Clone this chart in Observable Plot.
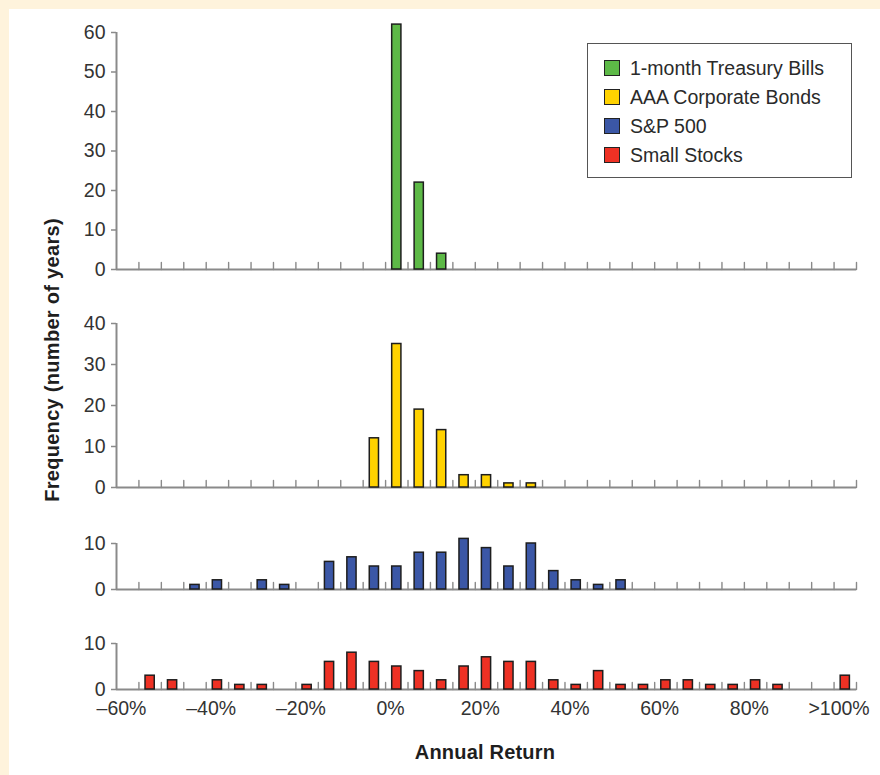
<!DOCTYPE html>
<html><head><meta charset="utf-8">
<script src="https://cdn.jsdelivr.net/npm/d3@7"></script>
<script src="https://cdn.jsdelivr.net/npm/@observablehq/plot@0.6"></script>
<style>
body{margin:0;background:#fff;}
#wrap{position:relative;width:880px;height:775px;background:#FEF3DC;overflow:hidden;font-family:"Liberation Sans",Arial,sans-serif;}
#panel{position:absolute;left:9px;top:9px;width:871px;height:766px;background:#fff;}
#wrap svg{position:absolute;left:0;}
#legend{position:absolute;left:587px;top:43px;width:265px;height:135px;border:1.5px solid #555;box-sizing:border-box;background:#fff;}
.row{position:absolute;left:16px;height:16px;display:flex;align-items:center;font-size:19.5px;color:#2a2a2a;white-space:nowrap;}
.sw{width:16px;height:16px;box-sizing:border-box;border:1.5px solid #222;margin-right:10px;flex:none;}
#ytitle{position:absolute;left:52px;top:360px;transform:translate(-50%,-50%) rotate(-90deg);font-weight:bold;font-size:20px;letter-spacing:0.3px;color:#1e1e1e;white-space:nowrap;}
#xtitle{position:absolute;left:485px;top:752px;transform:translate(-50%,-50%);font-weight:bold;font-size:20px;color:#1e1e1e;white-space:nowrap;letter-spacing:0.2px;}
</style></head>
<body><div id="wrap"><div id="panel"></div></div>
<script>
// Bin lower edges (5% wide bins; the last one is ">100%")
const binStarts = [-60,-55,-50,-45,-40,-35,-30,-25,-20,-15,-10,-5,0,5,10,15,20,25,30,35,40,45,50,55,60,65,70,75,80,85,90,95,100];
// Frequencies (number of years) per bin
const treasuryBills = [0,0,0,0,0,0,0,0,0,0,0,0,62,22,4,0,0,0,0,0,0,0,0,0,0,0,0,0,0,0,0,0,0];
const corporateBonds = [0,0,0,0,0,0,0,0,0,0,0,12,35,19,14,3,3,1,1,0,0,0,0,0,0,0,0,0,0,0,0,0,0];
const sp500 = [0,0,0,1,2,0,2,1,0,6,7,5,5,8,8,11,9,5,10,4,2,1,2,0,0,0,0,0,0,0,0,0,0];
const smallStocks = [0,3,2,0,2,1,1,0,1,6,8,6,5,4,2,5,7,6,6,2,1,4,1,1,2,2,1,1,2,1,0,0,3];

const seriesNames = ["1-month Treasury Bills","AAA Corporate Bonds","S&P 500","Small Stocks"];
const seriesColors = ["#5DB947","#FFD200","#3B57A6","#EE3124"];
const yTickSets = [[0,10,20,30,40,50,60],[0,10,20,30,40],[0,10],[0,10]];
const binTicks = [-55,-50,-45,-40,-35,-30,-25,-20,-15,-10,-5,0,5,10,15,20,25,30,35,40,45,50,55,60,65,70,75,80,85,90,95,100,105];
const xLabelValues = [-60,-40,-20,0,20,40,60,80,100];
const xLabelTexts = ["\u201360%","\u201340%","\u201320%","0%","20%","40%","60%","80%",">100%"];

const seriesCounts = [treasuryBills, corporateBonds, sp500, smallStocks];
// pixel layout of each panel: y of top tick, y of zero line
const layout = [[32.3,269.3],[322.7,486.7],[543,588.5],[643,688.5]];

const wrap = document.getElementById("wrap");
const axisGray = "#8a8a8a";
const font = "'Liberation Sans', Arial, sans-serif";

seriesCounts.forEach((counts, k) => {
  const withX = k === 3;
  const yTicks = yTickSets[k];
  const yMax = yTicks[yTicks.length - 1];
  const [yTop, yZero] = layout[k];
  const mt = 16, mb = withX ? 40 : 14;
  const height = Math.round(mt + (yZero - yTop) + mb);
  const data = binStarts.map((lo, i) => ({lo, hi: lo + 5, n: counts[i]})).filter(d => d.n > 0);
  const marks = [
    Plot.ruleY([0], {stroke: axisGray, strokeWidth: 2}),
    Plot.ruleX([-60], {y1: 0, y2: yMax, stroke: axisGray, strokeWidth: 2}),
    Plot.vector(binTicks, {x: d => d, frameAnchor: "bottom", length: 7, rotate: 0, anchor: "start", r: 0, stroke: axisGray, strokeWidth: 1.4}),
    Plot.rectY(data, {x1: "lo", x2: "hi", y: "n", fill: seriesColors[k], stroke: "#1e1e1e", strokeWidth: 1.5, insetLeft: 6.6, insetRight: 6.6}),
    Plot.axisY(yTicks, {tickSize: 5, tickPadding: 6, stroke: axisGray, strokeWidth: 1.5, fill: "#333", fontSize: 19.5, tickFormat: d => String(d), label: null})
  ];
  if (withX) {
    marks.push(Plot.axisX(xLabelValues, {tickSize: 0, tickPadding: 12, fill: "#333", fontSize: 19.5, dx: 5, label: null,
      tickFormat: d => xLabelTexts[xLabelValues.indexOf(d)]}));
  }
  const chart = Plot.plot({
    width: 880, height,
    marginLeft: 116, marginRight: 24, marginTop: mt, marginBottom: mb,
    x: {domain: [-60, 105], axis: withX ? undefined : null},
    y: {domain: [0, yMax], axis: null},
    style: {background: "transparent", overflow: "visible", fontFamily: font, fontSize: "19.5px", color: "#333"},
    marks
  });
  chart.style.top = (yTop - mt) + "px";
  wrap.appendChild(chart);
});

// legend
const legend = document.createElement("div");
legend.id = "legend";
seriesNames.forEach((name, i) => {
  const row = document.createElement("div");
  row.className = "row";
  row.style.top = (16 + i * 29) + "px";
  const sw = document.createElement("span");
  sw.className = "sw";
  sw.style.background = seriesColors[i];
  const t = document.createElement("span");
  t.textContent = name;
  row.appendChild(sw); row.appendChild(t);
  legend.appendChild(row);
});
wrap.appendChild(legend);

const yt = document.createElement("div");
yt.id = "ytitle"; yt.textContent = "Frequency (number of years)";
wrap.appendChild(yt);
const xt = document.createElement("div");
xt.id = "xtitle"; xt.textContent = "Annual Return";
wrap.appendChild(xt);
</script>
</body></html>
